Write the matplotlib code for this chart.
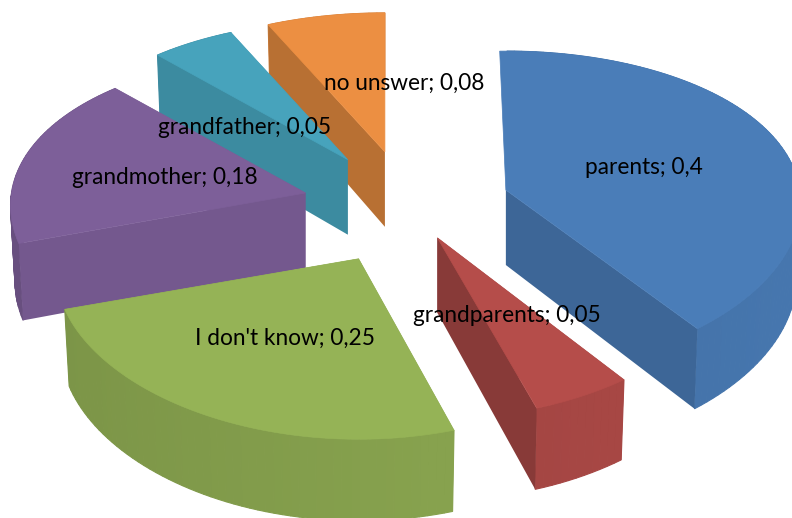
# exploded 3D pie, drawn by hand since matplotlib has no 3D pie
import numpy as np
import matplotlib
matplotlib.use("Agg")
import matplotlib.pyplot as plt
from matplotlib.patches import Polygon
from matplotlib.colors import to_rgb

categories = ["parents", "grandparents", "I don't know", "grandmother", "grandfather", "no unswer"]
values = [0.4, 0.05, 0.25, 0.18, 0.05, 0.08]
value_labels = ["0,4", "0,05", "0,25", "0,18", "0,05", "0,08"]

colors = ["#4A7DB8", "#B54D4A", "#95B356", "#7D5F99", "#47A3BC", "#EC8F42"]
cut_shade = [0.82, 0.75, 0.85, 0.93, 0.85, 0.78]
explode = [0.35, 0.22, 0.37, 0.36, 0.365, 0.36]
width_scale = [1.0, 1.01, 1.025, 1.0, 1.0, 1.0]
end_nudge = [-1.6, 0.0, 0.0, 0.0, 0.0, 0.0]
start_nudge = [-1.3, 0.0, 1.0, 0.0, 0.0, 0.0]
draw_order = [5, 4, 3, 0, 1, 2]
label_pos = [(644, 167), (507, 315), (285, 338), (165, 177), (245, 127), (404, 83)]

# pie layout in figure pixels
cx, cy = 408.0, 207.0
rx, ry = 294.0, 157.0
persp_x, persp_y = 0.08, 0.13
depth = 75.0
bottom_squeeze = 0.985


def radial(th):
    # offset of a rim point from the slice apex
    sx = 1.0 / (1.0 + persp_x * np.cos(th))
    sy = 1.0 / (1.0 + persp_y * np.cos(th))
    return rx * np.sin(th) * sx, -ry * np.cos(th) * sy, sx


def shade(color, f):
    return tuple(min(1.0, c * f) for c in to_rgb(color))


fig = plt.figure(figsize=(7.92, 5.18), dpi=100)
ax = fig.add_axes([0, 0, 1, 1])
ax.set_xlim(0, 792)
ax.set_ylim(518, 0)
ax.axis("off")

# the values add up to 1.01, the last slice just stops at the full circle
ends = np.minimum(np.cumsum(values) * 360.0, 360.0)
starts = np.concatenate(([0.0], ends[:-1]))

for i in draw_order:
    mid = np.radians(0.5 * (starts[i] + ends[i]))
    a0 = np.radians(starts[i] + start_nudge[i])
    a1 = np.radians(ends[i] + end_nudge[i])
    ax0 = cx + rx * explode[i] * np.sin(mid)
    ay0 = cy - ry * explode[i] * np.cos(mid)
    th = np.linspace(a0, a1, max(8, int(np.degrees(a1 - a0) / 1.5)))
    dx, dy, s = radial(th)
    dx = dx * width_scale[i]
    px, py = ax0 + dx, ay0 + dy
    bx, by = ax0 + dx * bottom_squeeze, ay0 + dy + depth * s
    col = colors[i]
    z = 1 + draw_order.index(i)

    def cut_face(k):
        quad = [(ax0, ay0), (px[k], py[k]), (bx[k], by[k]), (ax0, ay0 + depth)]
        ax.add_patch(Polygon(quad, closed=True, fc=shade(col, cut_shade[i]), ec="none", zorder=z))

    # a cut face only shows when it turns towards the viewer
    start_seen = np.sin(a0) < -0.1
    end_seen = np.sin(a1) > 0.1
    if not start_seen and a0 >= 0:
        cut_face(0)
    if not end_seen:
        cut_face(-1)
    # outer wall in narrow strips
    for k in range(len(th) - 1):
        if th[k] < 0:
            continue
        f = 0.89 + 0.06 * np.sin(th[k])
        quad = [(px[k], py[k]), (px[k + 1], py[k + 1]), (bx[k + 1], by[k + 1]), (bx[k], by[k])]
        ax.add_patch(Polygon(quad, closed=True, fc=shade(col, f), ec=shade(col, f), lw=0.8, zorder=z))
    if start_seen:
        cut_face(0)
    if end_seen:
        cut_face(-1)
    top = [(ax0, ay0)] + list(zip(px, py))
    ax.add_patch(Polygon(top, closed=True, fc=col, ec=col, lw=0.5, zorder=z))

for name, val, (tx, ty) in zip(categories, value_labels, label_pos):
    ax.text(tx, ty, name + "; " + val, ha="center", va="center", fontsize=16.3,
            family=["Lato", "DejaVu Sans"], color="black", zorder=20)

fig.savefig("out.png", dpi=100)
